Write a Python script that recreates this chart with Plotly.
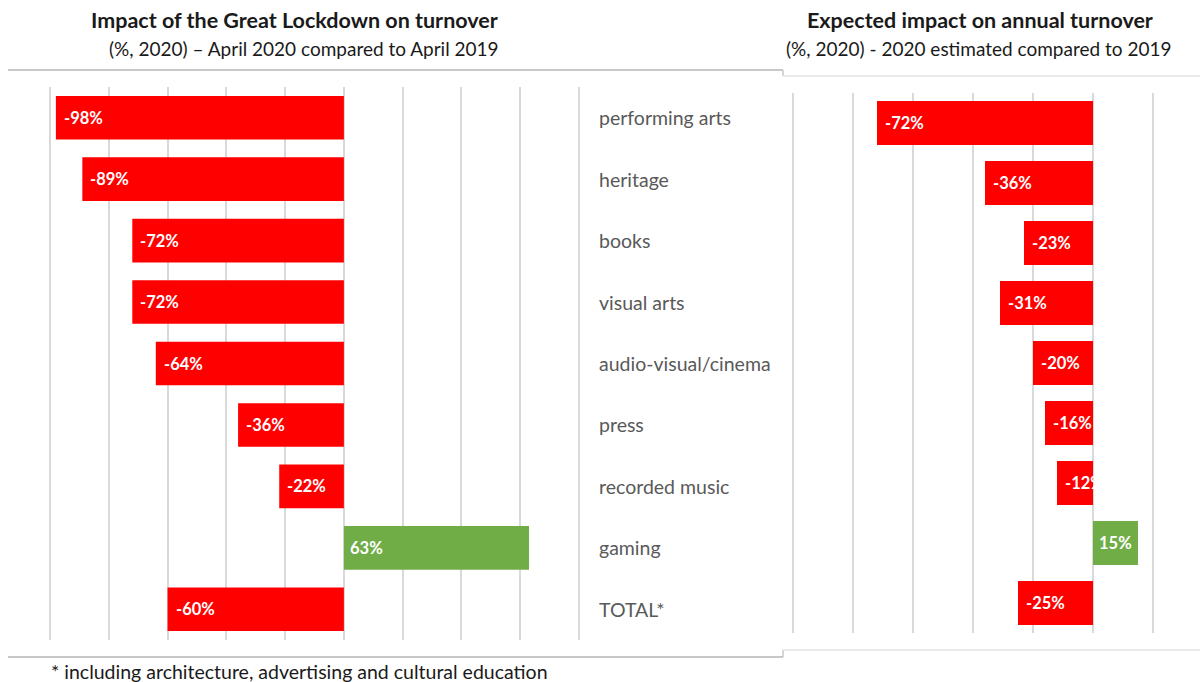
import plotly.graph_objects as go

# Sectors, top to bottom
sectors = ["performing arts", "heritage", "books", "visual arts", "audio-visual/cinema",
           "press", "recorded music", "gaming", "TOTAL*"]
# April 2020 vs April 2019 (%)
april_change = [-98, -89, -72, -72, -64, -36, -22, 63, -60]
# 2020 estimated vs 2019 (%)
annual_change = [-72, -36, -23, -31, -20, -16, -12, 15, -25]

RED = "#FF0000"
GREEN = "#70AD47"
GRID = "#D9D9D9"
FONT = "Lato"
W, H = 1200, 682


def px(x):
    return x / W


def py(y):
    return 1 - y / H


def colors(vals):
    return [GREEN if v > 0 else RED for v in vals]


fig = go.Figure()
fig.add_trace(go.Bar(y=sectors, x=april_change, orientation="h", width=0.71,
                     marker=dict(color=colors(april_change), line=dict(width=0)),
                     xaxis="x", yaxis="y", hoverinfo="skip"))
fig.add_trace(go.Bar(y=sectors, x=annual_change, orientation="h", width=0.73,
                     marker=dict(color=colors(annual_change), line=dict(width=0)),
                     xaxis="x2", yaxis="y2", hoverinfo="skip"))

annotations = []
# value labels at the left end of every bar
for vals, xr, yr in ((april_change, "x", "y"), (annual_change, "x2", "y2")):
    for cat, v in zip(sectors, vals):
        annotations.append(dict(x=min(v, 0), y=cat, xref=xr, yref=yr, text=f"<b>{v}%</b>",
                                showarrow=False, xanchor="left", xshift=4 if v > 0 else 6,
                                font=dict(family=FONT, size=16.5, color="white")))
# category labels between the two panels
for cat in sectors:
    annotations.append(dict(x=px(597), y=cat, xref="paper", yref="y", text=cat,
                            showarrow=False, xanchor="left",
                            font=dict(family=FONT, size=19.5, color="#595959")))

titles = [
    ("<b>Impact of the Great Lockdown on turnover</b>", 294, 20, 21.5),
    ("(%, 2020) – April 2020 compared to April 2019", 304, 48, 19),
    ("<b>Expected impact on annual turnover</b>", 980, 20, 21.5),
    ("(%, 2020) - 2020 estimated compared to 2019", 979, 48, 19),
]
for txt, x, y, s in titles:
    annotations.append(dict(x=px(x), y=py(y), xref="paper", yref="paper", text=txt,
                            showarrow=False, xanchor="center", yanchor="middle",
                            font=dict(family=FONT, size=s, color="#1a1a1a")))
annotations.append(dict(x=px(49), y=py(671), xref="paper", yref="paper",
                        text="* including architecture, advertising and cultural education",
                        showarrow=False, xanchor="left", yanchor="middle",
                        font=dict(family=FONT, size=19.5, color="#1a1a1a")))

# panel frame lines
shapes = []
for x0, y0, x1, y1, c, w in [
    (8, 70, 783, 70, "#C8C8C8", 2), (783, 70, 783, 76, "#C8C8C8", 1.5), (783, 76, 1200, 76, "#E2E2E2", 1.5),
    (8, 657, 783, 657, "#C8C8C8", 2), (783, 650, 783, 657, "#C8C8C8", 1.5), (783, 650, 1200, 650, "#E2E2E2", 1.5),
]:
    shapes.append(dict(type="line", xref="paper", yref="paper", x0=px(x0), y0=py(y0),
                       x1=px(x1), y1=py(y1), line=dict(color=c, width=w)))

axis_common = dict(showticklabels=False, ticks="", showgrid=True, gridcolor=GRID,
                   gridwidth=1.5, zeroline=False, showline=False, dtick=20, tick0=0)
cat_axis = dict(type="category", categoryorder="array", categoryarray=sectors,
                autorange="reversed", showticklabels=False, showgrid=False,
                zeroline=False, showline=False, ticks="")

# value axes padded by 2 units each side so the outermost grid lines are drawn
k1 = 529 / 180  # px per unit, left panel
k2 = 360 / 120  # px per unit, right panel
fig.update_layout(
    width=W, height=H, margin=dict(l=0, r=0, t=0, b=0),
    paper_bgcolor="white", plot_bgcolor="white", showlegend=False, barmode="overlay",
    xaxis=dict(domain=[px(50 - 2 * k1), px(579 + 2 * k1)], range=[-102, 82], anchor="y", **axis_common),
    yaxis=dict(domain=[py(640), py(87)], anchor="x", **cat_axis),
    xaxis2=dict(domain=[px(793 - 2 * k2), px(1153 + 2 * k2)], range=[-102, 22], anchor="y2", **axis_common),
    yaxis2=dict(domain=[py(633), py(93)], anchor="x2", **cat_axis),
    annotations=annotations, shapes=shapes,
)

fig.write_html("out.html")
